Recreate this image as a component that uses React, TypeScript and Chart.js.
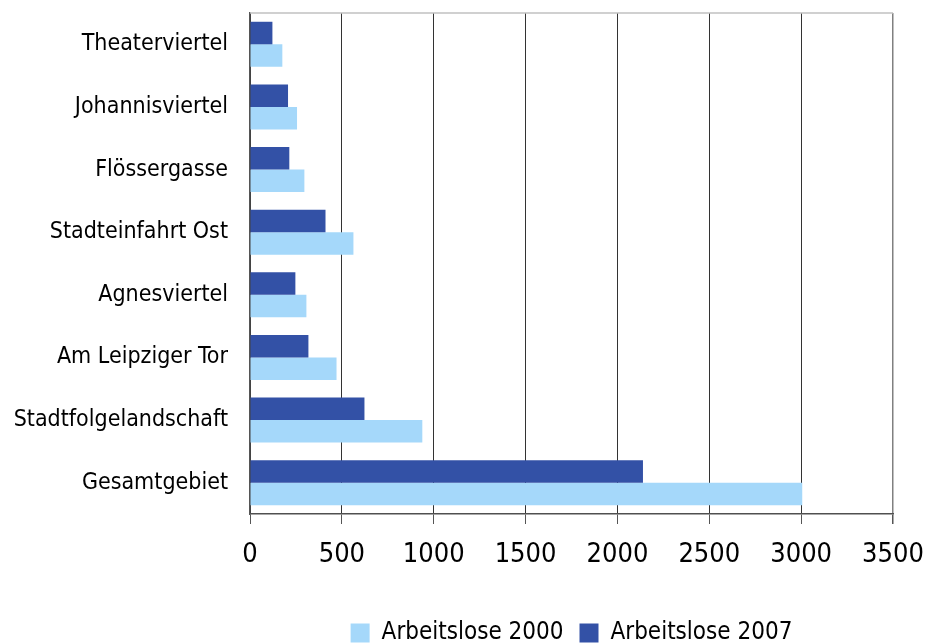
import React, { useEffect, useRef } from "react";
import { Chart, registerables } from "chart.js";

Chart.register(...registerables);

const categories = [
  "Theaterviertel",
  "Johannisviertel",
  "Flössergasse",
  "Stadteinfahrt Ost",
  "Agnesviertel",
  "Am Leipziger Tor",
  "Stadtfolgelandschaft",
  "Gesamtgebiet",
];
const seriesLabels = ["Arbeitslose 2000", "Arbeitslose 2007"];
const arbeitslose2000 = [176, 256, 296, 563, 307, 471, 938, 3006];
const arbeitslose2007 = [122, 207, 214, 411, 247, 318, 623, 2139];
const xTickValues = [0, 500, 1000, 1500, 2000, 2500, 3000, 3500];

const FONT = '"DejaVu Sans Condensed", "DejaVu Sans", sans-serif';

const topLinePlugin = {
  id: "topLine",
  beforeDatasetsDraw(chart: any) {
    const { ctx, chartArea } = chart;
    ctx.save();
    ctx.strokeStyle = "#c0c0c0";
    ctx.lineWidth = 1.5;
    ctx.beginPath();
    ctx.moveTo(chartArea.left, chartArea.top);
    ctx.lineTo(chartArea.right, chartArea.top);
    ctx.stroke();
    ctx.restore();
  },
};

export default function App() {
  const ref = useRef<HTMLCanvasElement | null>(null);

  useEffect(() => {
    if (!ref.current) return;
    const chart = new Chart(ref.current, {
      type: "bar",
      data: {
        labels: categories,
        datasets: [
          {
            label: seriesLabels[1],
            data: arbeitslose2007,
            backgroundColor: "#3351a6",
            categoryPercentage: 0.72,
            barPercentage: 1,
          },
          {
            label: seriesLabels[0],
            data: arbeitslose2000,
            backgroundColor: "#a5d8fa",
            categoryPercentage: 0.72,
            barPercentage: 1,
          },
        ],
      },
      options: {
        indexAxis: "y",
        animation: false,
        responsive: false,
        layout: { padding: { top: 13, right: 32, left: 0, bottom: 0 } },
        plugins: {
          tooltip: { enabled: false },
          legend: {
            position: "bottom",
            fullSize: false,
            reverse: true,
            labels: {
              boxWidth: 19,
              boxHeight: 19,
              padding: 16,
              color: "#000",
              font: { family: FONT, size: 24 },
            },
          },
        },
        scales: {
          x: {
            min: 0,
            max: 3500,
            afterBuildTicks: (scale: any) => {
              scale.ticks = xTickValues.map((v) => ({ value: v }));
            },
            afterFit: (scale: any) => {
              scale.height = 91;
              scale.paddingLeft = 0;
              scale.paddingRight = 0;
            },
            ticks: {
              color: "#000",
              padding: 15,
              font: { family: FONT, size: 27 },
              callback: (v: any) => String(v),
              maxRotation: 0,
            },
            grid: {
              color: (c: any) => (c.tick && c.tick.value === 3500 ? "#808080" : "#333333"),
              lineWidth: (c: any) => (c.tick && c.tick.value === 3500 ? 1.5 : 1),
              tickColor: "#555555",
              tickLength: 10,
            },
            border: { color: "#505050", width: 1.5 },
          },
          y: {
            afterFit: (scale: any) => {
              scale.width = 250;
              scale.paddingTop = 0;
              scale.paddingBottom = 0;
            },
            ticks: {
              color: "#000",
              padding: 22,
              font: { family: FONT, size: 23 },
            },
            grid: { display: false, drawTicks: false },
            border: { color: "#555555", width: 1.5 },
          },
        },
      },
      plugins: [topLinePlugin],
    } as any);
    return () => chart.destroy();
  }, []);

  return (
    <div
      style={{
        position: "absolute",
        left: 0,
        top: 0,
        width: 925,
        height: 644,
        overflow: "hidden",
        background: "#fff",
      }}
    >
      <canvas ref={ref} width={925} height={655} style={{ display: "block" }} />
    </div>
  );
}
